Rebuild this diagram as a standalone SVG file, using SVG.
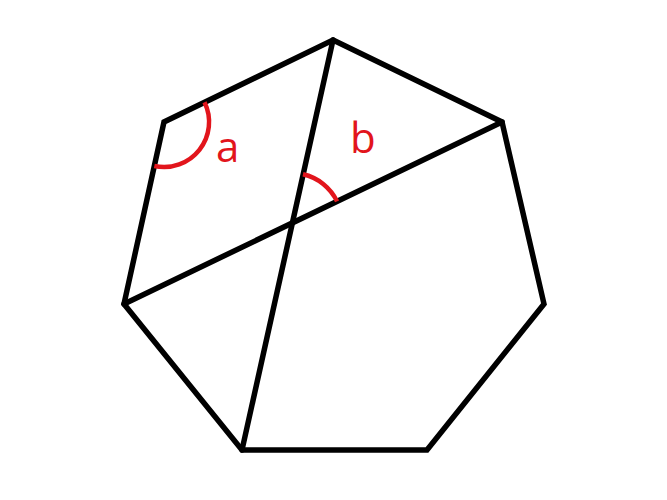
<svg xmlns="http://www.w3.org/2000/svg" width="667" height="500" viewBox="0 0 667 500">
<style>
.edge{fill:none;stroke:#000;stroke-width:5.5;stroke-linejoin:miter;stroke-linecap:round}
.arc{fill:none;stroke:#e2151c;stroke-width:4.5}
.lbl{font-family:"Open Sans","Liberation Sans",sans-serif;font-size:42px;fill:#e2151c}
</style>
<rect width="667" height="500" fill="#fff"/>
<g id="heptagon">
<polygon class="edge" points="333,40 502,122 544,304 427,450 242,450 124,304 164,122"/>
</g>
<g id="connectors">
<line class="edge" x1="333" y1="40" x2="242" y2="450"/>
<line class="edge" x1="502" y1="122" x2="124" y2="304"/>
</g>
<g id="angle-a">
<path class="arc" d="M204.5,102.3 A45,45 0 0 1 154.3,166"/>
<text class="lbl" x="216" y="162">a</text>
</g>
<g id="angle-b">
<path class="arc" d="M303,174.2 A50,50 0 0 1 337.1,201.4"/>
<text class="lbl" x="350" y="153">b</text>
</g>
</svg>
